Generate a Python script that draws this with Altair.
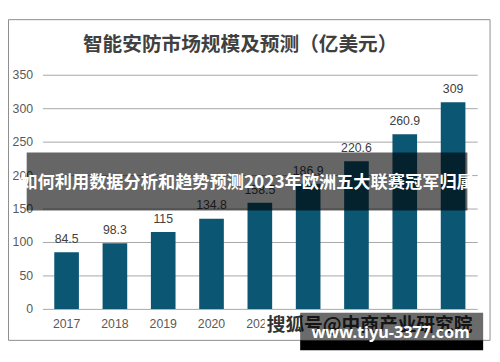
import altair as alt
import pandas as pd

years = ["2017", "2018", "2019", "2020", "2021", "2022", "2023", "2024", "2025"]
values = [84.5, 98.3, 115, 134.8, 158.5, 186.9, 220.6, 260.9, 309]
labels = ["84.5", "98.3", "115", "134.8", "158.5", "186.9", "220.6", "260.9", "309"]
y_ticks = [0, 50, 100, 150, 200, 250, 300, 350]
title_text = "智能安防市场规模及预测（亿美元）"
banner_text = "如何利用数据分析和趋势预测2023年欧洲五大联赛冠军归属"
source_text = "搜狐号@中商产业研究院"
site_text = "www.tiyu-3377.com"

df = pd.DataFrame({"year": years, "value": values, "label": labels})
one = pd.DataFrame({"k": [0]})

NUM_FONT = "Liberation Sans"
CJK_FONT = "Noto Sans CJK SC"

x_enc = alt.X(
    "year:N", sort=years,
    scale=alt.Scale(paddingInner=0.49, paddingOuter=0.245),
    axis=alt.Axis(title=None, labelAngle=0, domain=False, ticks=False,
                  labelPadding=9, labelFontSize=12.5, labelColor="#595959",
                  labelFont=NUM_FONT, labelOverlap=False),
)
y_enc = alt.Y(
    "value:Q",
    scale=alt.Scale(domain=[0, 350], nice=False),
    axis=alt.Axis(title=None, values=y_ticks, tickCount=8, domain=False, ticks=False,
                  labelPadding=10, grid=True, gridColor="#a6a6a6", gridWidth=1,
                  labelFontSize=12.5, labelColor="#595959", labelFont=NUM_FONT,
                  labelOverlap=False, labelFlush=False),
)

frame = alt.Chart(one).mark_rect(fill="transparent", stroke="#8c8c8c", strokeWidth=1).encode(
    x=alt.value(-34.5), x2=alt.value(455), y=alt.value(-56), y2=alt.value(270))

bars = alt.Chart(df).mark_bar(color="#0b5673").encode(x=x_enc, y=y_enc)

vals = alt.Chart(df).mark_text(baseline="middle", dy=-13.5, fontSize=12.5,
                               color="#404040", font=NUM_FONT).encode(
    x=x_enc, y=y_enc, text="label:N")

title = alt.Chart(one).mark_text(text=title_text, fontSize=20, fontWeight="bold",
                                 color="#404040", font=CJK_FONT, align="center",
                                 baseline="middle").encode(
    x=alt.value(201), y=alt.value(-30))

banner = alt.Chart(one).mark_rect(color="black", opacity=0.6).encode(
    x=alt.value(-16), x2=alt.value(432), y=alt.value(79), y2=alt.value(138))

banner_txt = alt.Chart(one).mark_text(text=banner_text, fontSize=17.5, fontWeight="bold",
                                      color="white", font=CJK_FONT, align="center",
                                      baseline="middle").encode(
    x=alt.value(208), y=alt.value(110))

white_box = alt.Chart(one).mark_rect(color="white").encode(
    x=alt.value(226), x2=alt.value(448), y=alt.value(243), y2=alt.value(268))

source_txt = alt.Chart(one).mark_text(text=source_text, fontSize=19, fontWeight="bold",
                                      color="#333333", font=CJK_FONT, align="left",
                                      baseline="middle").encode(
    x=alt.value(228), y=alt.value(254))

gray_box = alt.Chart(one).mark_rect(color="black", opacity=0.58).encode(
    x=alt.value(262), x2=alt.value(448), y=alt.value(242), y2=alt.value(270))

black_box = alt.Chart(one).mark_rect(color="black").encode(
    x=alt.value(262), x2=alt.value(448), y=alt.value(270), y2=alt.value(280))

site_txt = alt.Chart(one).mark_text(text=site_text, fontSize=16.5, fontWeight="bold",
                                    color="white", font="Noto Sans", align="center",
                                    baseline="middle").encode(
    x=alt.value(354), y=alt.value(263))

chart = alt.layer(
    frame, bars, vals, title, banner, banner_txt,
    white_box, source_txt, gray_box, black_box, site_txt,
).properties(
    width=442, height=238,
    autosize=alt.AutoSizeParams(type="none"),
    padding={"left": 35, "top": 65, "right": 15, "bottom": 43},
    background="white",
).configure_view(stroke=None)

chart.save("out.html", embed_options={"renderer": "svg", "actions": False})
